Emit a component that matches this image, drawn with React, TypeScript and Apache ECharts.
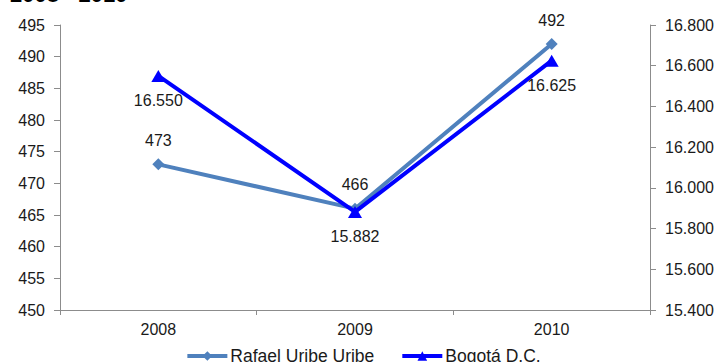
import React, { useEffect, useRef } from "react";
import * as echarts from "echarts";

const categories = ["2008", "2009", "2010"];
const rafaelValues = [473, 466, 492];
const bogotaValues = [16550, 15882, 16625];
const titleText = "2008 - 2010";

const fmtThousands = (v: number) => {
  const s = Math.round(v).toString();
  return s.replace(/\B(?=(\d{3})+(?!\d))/g, ".");
};

export default function App() {
  const ref = useRef<HTMLDivElement>(null);
  useEffect(() => {
    const chart = echarts.init(ref.current!, null, { renderer: "svg" });
    const axisColor = "#8c8c8c";
    const textColor = "#1a1a1a";
    const font = "Liberation Sans, Arial, sans-serif";
    const fs = 16;
    chart.setOption({
      animation: false,
      backgroundColor: "#ffffff",
      textStyle: { fontFamily: font },
      graphic: [
        {
          type: "text",
          left: 10,
          top: -17,
          style: { text: titleText, fontSize: 22, fontWeight: "bold", fill: "#000", fontFamily: font },
        },
      ],
      grid: { left: 60, right: 76, top: 25, bottom: 52, containLabel: false },
      legend: {
        top: 342,
        left: "center",
        itemGap: 26,
        itemWidth: 40,
        itemHeight: 12,
        lineStyle: { width: 4 },
        textStyle: { fontSize: 17.5, color: textColor, fontFamily: font, padding: [0, 0, 0, -2] },
        data: ["Rafael Uribe Uribe", "Bogotá D.C."],
      },
      xAxis: {
        type: "category",
        data: categories,
        boundaryGap: true,
        axisLine: { lineStyle: { color: axisColor, width: 1 } },
        axisTick: { show: true, alignWithLabel: false, length: 5, lineStyle: { color: axisColor } },
        axisLabel: { color: textColor, fontSize: fs, margin: 11 },
        splitLine: { show: false },
      },
      yAxis: [
        {
          type: "value",
          min: 450,
          max: 495,
          interval: 5,
          position: "left",
          axisLine: { show: true, lineStyle: { color: axisColor } },
          axisTick: { show: true, length: 6, lineStyle: { color: axisColor } },
          axisLabel: { color: textColor, fontSize: fs, margin: 15 },
          splitLine: { show: false },
        },
        {
          type: "value",
          min: 15400,
          max: 16800,
          interval: 200,
          position: "right",
          axisLine: { show: true, lineStyle: { color: axisColor } },
          axisTick: { show: true, length: 6, lineStyle: { color: axisColor } },
          axisLabel: { color: textColor, fontSize: fs, margin: 15, formatter: (v: number) => fmtThousands(v) },
          splitLine: { show: false },
        },
      ],
      series: [
        {
          name: "Rafael Uribe Uribe",
          type: "line",
          yAxisIndex: 0,
          data: rafaelValues,
          symbol: "diamond",
          symbolSize: 12,
          lineStyle: { color: "#4F81BD", width: 4 },
          itemStyle: { color: "#4F81BD" },
          label: { show: true, position: "top", distance: 10, color: textColor, fontSize: fs },
          z: 2,
        },
        {
          name: "Bogotá D.C.",
          type: "line",
          yAxisIndex: 1,
          data: bogotaValues,
          symbol: "triangle",
          symbolSize: [14, 12],
          lineStyle: { color: "#0000FF", width: 4 },
          itemStyle: { color: "#0000FF" },
          label: {
            show: true,
            position: "bottom",
            distance: 11,
            color: textColor,
            fontSize: fs,
            formatter: (p: any) => fmtThousands(p.value),
          },
          z: 3,
        },
      ],
    });
    return () => chart.dispose();
  }, []);
  return <div ref={ref} style={{ position: "fixed", left: 0, top: 0, width: 726, height: 362 }} />;
}
